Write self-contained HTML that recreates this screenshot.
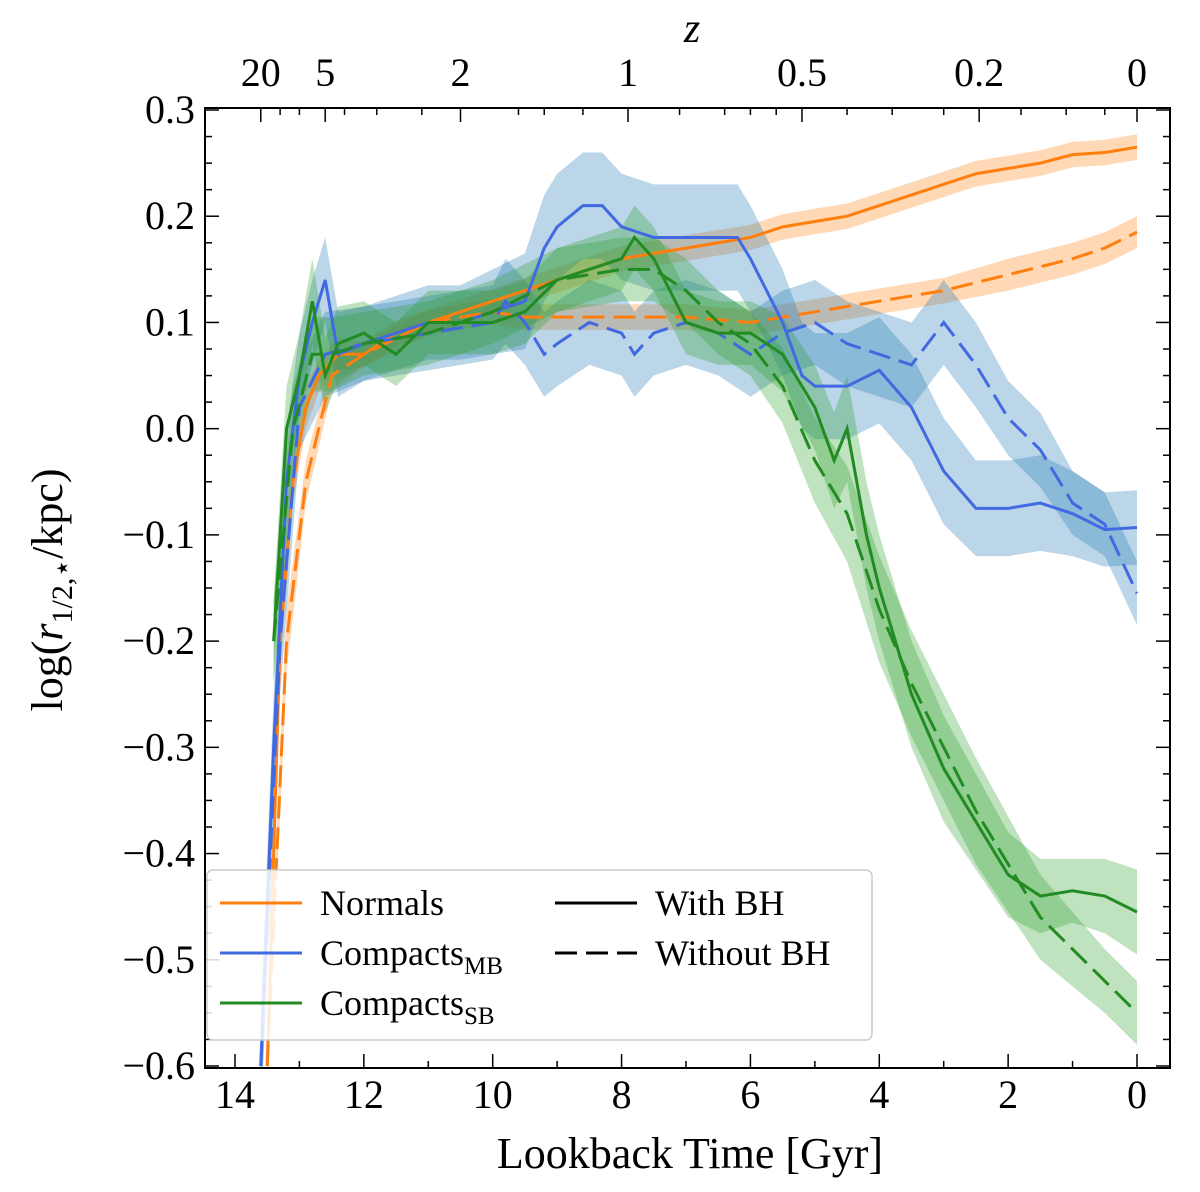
<!DOCTYPE html>
<html><head><meta charset="utf-8"><style>
html,body{margin:0;padding:0;background:#fff}
svg{display:block;font-family:"Liberation Serif",serif}
</style></head><body>
<svg id="c" width="1200" height="1192" viewBox="0 0 1200 1192"></svg>
<script>
// ---- data ----
const nT=[13.5,13.3,13.1,12.9,12.7,12.4,12,11.5,11,10.5,10,9.5,9,8.5,8,7.5,7,6.5,6,5.5,5,4.5,4,3.5,3,2.5,2,1.5,1,0.5,0];
const nV=[-0.6,-0.2,-0.05,0.02,0.05,0.07,0.07,0.09,0.1,0.11,0.12,0.13,0.14,0.15,0.16,0.165,0.17,0.175,0.18,0.19,0.195,0.2,0.21,0.22,0.23,0.24,0.245,0.25,0.258,0.26,0.265];
const nE=[0.03,0.03,0.02,0.02,0.015,0.015,0.012,0.012,0.012,0.012,0.012,0.012,0.012,0.012,0.012,0.012,0.012,0.012,0.012,0.012,0.012,0.012,0.012,0.012,0.012,0.012,0.012,0.012,0.012,0.012,0.012];
const ndT=[13.5,13.2,12.9,12.5,12,11,10,9.5,9,8,7,6,5.5,5,4,3,2,1,0.5,0];
const ndV=[-0.6,-0.2,-0.05,0.05,0.07,0.1,0.11,0.105,0.105,0.105,0.105,0.1,0.105,0.11,0.12,0.13,0.145,0.16,0.17,0.185];
const ndE=[0.03,0.03,0.02,0.015,0.012,0.012,0.012,0.012,0.012,0.012,0.012,0.012,0.012,0.012,0.012,0.012,0.015,0.015,0.015,0.015];
const mT=[13.6,13.4,13.2,13,12.8,12.6,12.4,12,11.5,11,10.5,10,9.5,9.2,9,8.6,8.3,8,7.5,7,6.5,6.2,6,5.5,5.2,5,4.5,4,3.5,3,2.5,2,1.5,1,0.5,0];
const mV=[-0.6,-0.3,-0.05,0.05,0.1,0.14,0.07,0.08,0.09,0.1,0.1,0.11,0.12,0.17,0.19,0.21,0.21,0.19,0.18,0.18,0.18,0.18,0.16,0.1,0.05,0.04,0.04,0.055,0.02,-0.04,-0.075,-0.075,-0.07,-0.08,-0.095,-0.093];
const mE=[0.05,0.05,0.05,0.04,0.04,0.04,0.04,0.035,0.035,0.035,0.035,0.04,0.045,0.05,0.05,0.05,0.05,0.05,0.05,0.05,0.05,0.05,0.05,0.05,0.05,0.05,0.05,0.05,0.05,0.05,0.045,0.045,0.045,0.04,0.035,0.035];
const mdT=[13.6,13.3,13,12.6,12,11,10,9.8,9.5,9.2,9,8.5,8,7.8,7.5,7,6.5,6,5.5,5,4.5,4,3.5,3,2.5,2,1.5,1,0.5,0];
const mdV=[-0.6,-0.2,0.02,0.07,0.08,0.09,0.1,0.12,0.1,0.07,0.08,0.1,0.09,0.07,0.09,0.1,0.09,0.07,0.09,0.1,0.08,0.07,0.06,0.1,0.06,0.01,-0.02,-0.07,-0.09,-0.155];
const mdE=[0.05,0.05,0.04,0.04,0.035,0.035,0.035,0.04,0.04,0.04,0.04,0.04,0.04,0.04,0.04,0.04,0.04,0.04,0.04,0.04,0.04,0.04,0.04,0.04,0.04,0.035,0.035,0.03,0.03,0.03];
const sT=[13.4,13.2,13.0,12.8,12.6,12.4,12,11.5,11,10.5,10,9.5,9,8.5,8,7.8,7.5,7,6.5,6,5.5,5,4.7,4.5,4.2,4,3.5,3,2.5,2,1.5,1,0.5,0];
const sV=[-0.2,0.0,0.05,0.12,0.05,0.08,0.09,0.07,0.1,0.1,0.1,0.11,0.14,0.15,0.16,0.18,0.16,0.1,0.09,0.09,0.07,0.02,-0.03,0.0,-0.1,-0.15,-0.25,-0.32,-0.37,-0.42,-0.44,-0.435,-0.44,-0.455];
const sE=[0.04,0.04,0.04,0.04,0.035,0.035,0.03,0.03,0.03,0.03,0.03,0.03,0.03,0.03,0.03,0.03,0.03,0.03,0.03,0.03,0.035,0.04,0.045,0.05,0.05,0.05,0.05,0.05,0.045,0.04,0.035,0.03,0.035,0.04];
const sdT=[13.4,13.1,12.8,12.5,12,11,10,9,8,7.5,7,6.5,6,5.5,5,4.5,4,3.5,3,2.5,2,1.5,1,0.5,0];
const sdV=[-0.2,0.0,0.07,0.07,0.08,0.09,0.11,0.14,0.15,0.15,0.13,0.1,0.08,0.04,-0.03,-0.08,-0.17,-0.24,-0.3,-0.36,-0.41,-0.46,-0.49,-0.52,-0.55];
const sdE=[0.04,0.04,0.035,0.035,0.03,0.03,0.03,0.03,0.03,0.03,0.03,0.03,0.03,0.035,0.04,0.045,0.05,0.05,0.05,0.05,0.045,0.04,0.035,0.03,0.03];
const xTicks=[14,12,10,8,6,4,2,0];
const yTicks=[0.3,0.2,0.1,0.0,-0.1,-0.2,-0.3,-0.4,-0.5,-0.6];
const zLabels=["20","5","2","1","0.5","0.2","0"];
const zTimes=[13.6,12.6,10.5,7.9,5.2,2.45,0];

// ---- layout ----
const L=205,R=1170,T=108,B=1068;
const X=t=>235+(14-t)*(1137-235)/14;
const Y=v=>110+(0.3-v)*(1066-110)/0.9;
const svg=document.getElementById('c');
const NS='http://www.w3.org/2000/svg';
function mk(tag,at,parent){const e=document.createElementNS(NS,tag);for(const k in at)e.setAttribute(k,at[k]);(parent||svg).appendChild(e);return e;}
const defs=mk('defs',{});
const cp=mk('clipPath',{id:'pc'},defs);
mk('rect',{x:L,y:T,width:R-L,height:B-T},cp);
const g=mk('g',{'clip-path':'url(#pc)'});


function band(ts,vs,es,col,name){
  let d='';ts.forEach((t,i)=>{d+=(i?'L':'M')+X(t)+','+Y(vs[i]+es[i]);});
  for(let i=ts.length-1;i>=0;i--)d+='L'+X(ts[i])+','+Y(vs[i]-es[i]);
  const p=mk('path',{d:d+'Z',fill:col,'fill-opacity':0.3,stroke:'none'},g);
  
  
}
function line(ts,vs,col,dash,name){
  const d=ts.map((t,i)=>(i?'L':'M')+X(t)+','+Y(vs[i])).join('');
  const p=mk('path',{d:d,fill:'none',stroke:col,'stroke-width':3,'stroke-dasharray':dash?'22,9':'none'},g);
  
  
}
const OR='#ff7f0e',BL='#4169e1',GR='#228b22';
band(nT,nV,nE,OR,'normals-band');band(ndT,ndV,ndE,OR,'normals-nobh-band');
band(mT,mV,mE,'#1f77b4','compacts-mb-band');band(mdT,mdV,mdE,'#1f77b4','compacts-mb-nobh-band');
band(sT,sV,sE,'#2ca02c','compacts-sb-band');band(sdT,sdV,sdE,'#2ca02c','compacts-sb-nobh-band');
line(ndT,ndV,OR,true,'normals-nobh-line');line(nT,nV,OR,false,'normals-line');
line(mdT,mdV,BL,true,'compacts-mb-nobh-line');line(mT,mV,BL,false,'compacts-mb-line');
line(sdT,sdV,GR,true,'compacts-sb-nobh-line');line(sT,sV,GR,false,'compacts-sb-line');

// frame
const fr=mk('rect',{x:L,y:T,width:R-L,height:B-T,fill:'none',stroke:'#000','stroke-width':2});

function tl(x1,y1,x2,y2){mk('line',{x1,y1,x2,y2,stroke:'#000','stroke-width':1.5});}
for(let t=14;t>=0;t-=1){const x=X(t);const big=t%2===0;const len=big?14:7;tl(x,B,x,B-len);}
xTicks.forEach(t=>{const e=mk('text',{x:X(t),y:B+40,'text-anchor':'middle','font-size':40});e.textContent=t;
  });
for(let i=0;i<=36;i++){const v=0.3-i*0.025;const y=Y(v);const big=i%4===0;const len=big?14:7;tl(L,y,L+len,y);tl(R,y,R-len,y);}
yTicks.forEach(v=>{const e=mk('text',{x:L-10,y:Y(v)+13,'text-anchor':'end','font-size':40});
  e.textContent=(v<0?'\u2212':'')+Math.abs(v).toFixed(1);
  });
zTimes.forEach((t,i)=>{const x=X(t);tl(x,T,x,T+14);
  const e=mk('text',{x:x,y:T-22,'text-anchor':'middle','font-size':40});e.textContent=zLabels[i];
  });
[13.3,13.0,12.3,11.8,11.1,9.6,9.2,8.6,7.1,6.4,6.0,5.6,4.5,3.8,3.0,1.8,1.1,0.5].forEach(t=>{const x=X(t);tl(x,T,x,T+7);});
let e;
e=mk('text',{x:692,y:42,'text-anchor':'middle','font-size':42,'font-style':'italic'});e.textContent='z';

e=mk('text',{x:690,y:1168,'text-anchor':'middle','font-size':44});e.textContent='Lookback Time [Gyr]';

e=mk('text',{x:0,y:0,'text-anchor':'middle','font-size':44,transform:'translate(62,590) rotate(-90)'});
e.innerHTML='log(<tspan font-style="italic">r</tspan><tspan font-size="30" dy="10">1/2,\u22c6</tspan><tspan dy="-10">/kpc)</tspan>';


// legend
const lg=mk('g',{});

mk('rect',{x:207,y:870,width:665,height:170,rx:6,fill:'#fff','fill-opacity':0.85,stroke:'#ccc','stroke-width':1.5},lg);
function entry(x,y,col,dash,label,sub,name){
  mk('line',{x1:x,y1:y,x2:x+82,y2:y,stroke:col,'stroke-width':3,'stroke-dasharray':dash?'22,9':'none'},lg);
  const t=mk('text',{x:x+100,y:y+12,'font-size':36},lg);
  t.innerHTML=label+(sub?'<tspan font-size="25" dy="9">'+sub+'</tspan>':'');
  
}
entry(220,903,OR,false,'Normals','','legend-normals');
entry(220,953,BL,false,'Compacts','MB','legend-compacts-mb');
entry(220,1003,GR,false,'Compacts','SB','legend-compacts-sb');
entry(555,903,'#000',false,'With BH','','legend-with-bh');
entry(555,953,'#000',true,'Without BH','','legend-without-bh');
</script>
</body></html>
